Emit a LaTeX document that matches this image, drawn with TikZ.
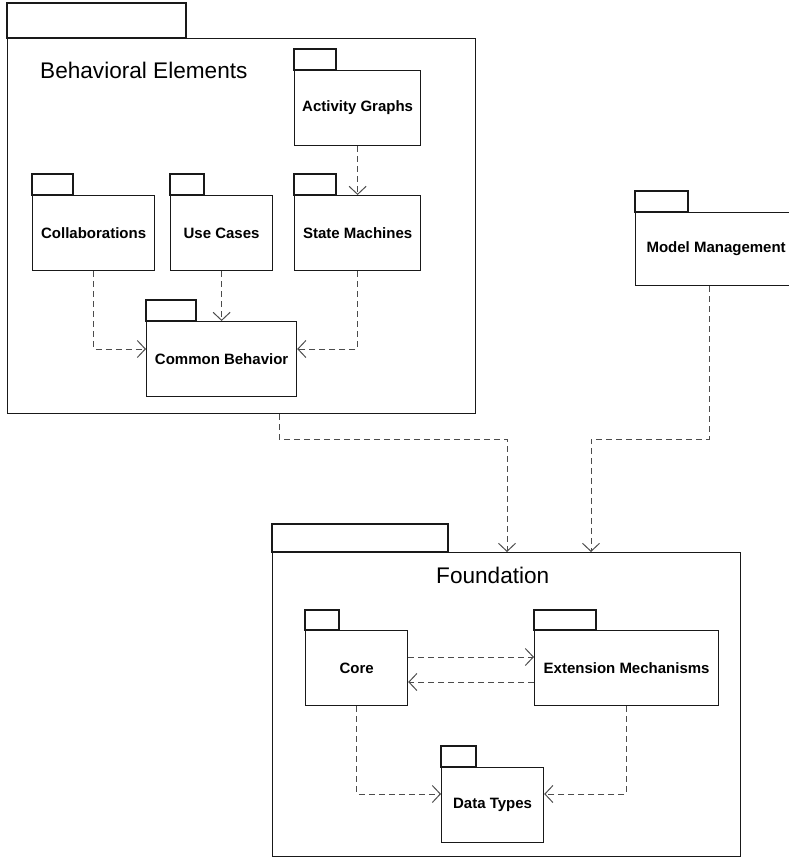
\documentclass[tikz,border=0pt]{standalone}
\usepackage{fontspec}
\setmainfont{Liberation Sans}
\usetikzlibrary{arrows.meta}

\tikzset{
  pkgline/.style={draw=black!90, line width=1.2pt},
  pkgbody/.style={pkgline, rectangle, inner sep=0pt, anchor=north west,
    font=\fontsize{15}{18}\selectfont\bfseries},
  biglabel/.style={inner sep=0pt, anchor=base west, font=\fontsize{22.6}{27}\selectfont},
  dep/.style={draw=black!70, line width=1pt, dash pattern=on 6pt off 4pt,
    -{Straight Barb[length=8pt,width=17pt,line width=1pt]}},
}

% name, left, top, right, bottom, tab width, tab height, label
\newcommand{\umlpackage}[8]{%
  \node[pkgbody, minimum width={(#4-#2)*1pt}, minimum height={(#5-#3)*1pt}]
    (#1) at (#2,#3) {#8};
  \draw[pkgline] (#1.north west) rectangle ++(#6,-#7);
}

\begin{document}
\begin{tikzpicture}[x=1pt, y=-1pt]
\useasboundingbox (0,0) rectangle (788,857);

% outer packages
\umlpackage{be}{7}{38}{475}{413}{179}{35}{}
\node[biglabel] (belabel) at (40,78) {Behavioral Elements};
\umlpackage{fo}{272}{552}{740}{856}{176}{28}{}
\node[biglabel] (folabel) at (436,583) {Foundation};
\umlpackage{mm}{635}{212}{796}{285}{53}{21}{Model Management}

% packages inside Behavioral Elements
\umlpackage{ag}{294}{70}{420}{145}{42}{21}{Activity Graphs}
\umlpackage{co}{32}{195}{154}{270}{41}{21}{Collaborations}
\umlpackage{uc}{170}{195}{272}{270}{34}{21}{Use Cases}
\umlpackage{sm}{294}{195}{420}{270}{42}{21}{State Machines}
\umlpackage{cb}{146}{321}{296}{396}{50}{21}{Common Behavior}

% packages inside Foundation
\umlpackage{core}{305}{630}{407}{705}{34}{20}{Core}
\umlpackage{ext}{534}{630}{718}{705}{62}{20}{Extension Mechanisms}
\umlpackage{dt}{441}{767}{543}{842}{35}{21}{Data Types}

% dependencies
\draw[dep] (ag.south) -- (sm.north);
\draw[dep] (co.south) |- (cb.west |- 0,349);
\draw[dep] (uc.south) -- (cb.north);
\draw[dep] (sm.south) |- (cb.east |- 0,349);

\draw[dep] (be.south -| 279,0) |- (507,439) -- (fo.north -| 507,0);
\draw[dep] (mm.south -| 709,0) |- (591,439) -- (fo.north -| 591,0);

\draw[dep] (core.east |- 0,657) -- (ext.west |- 0,657);
\draw[dep] (ext.west |- 0,682) -- (core.east |- 0,682);
\draw[dep] (core.south) |- (dt.west |- 0,794);
\draw[dep] (ext.south) |- (dt.east |- 0,794);
\end{tikzpicture}
\end{document}
